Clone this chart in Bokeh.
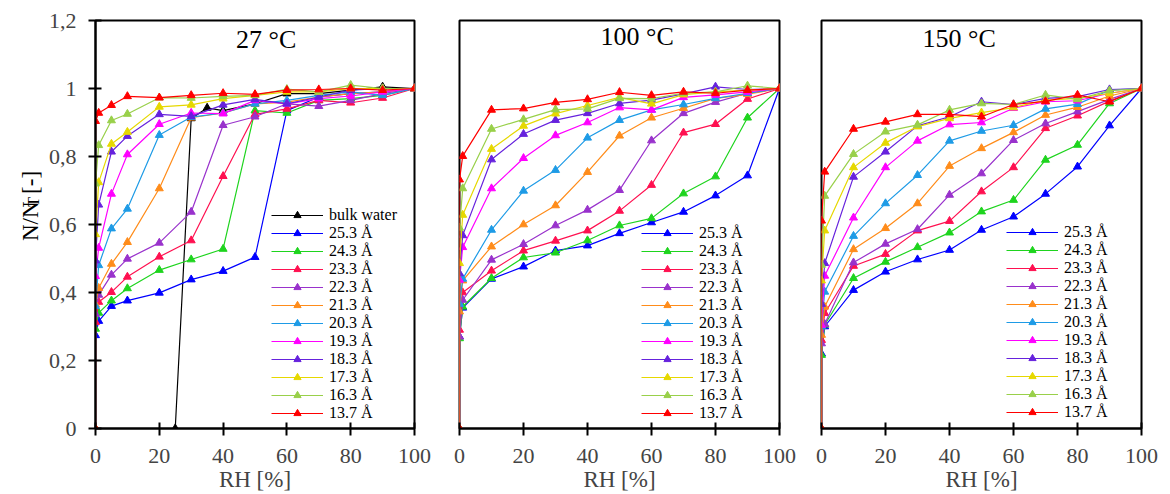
import math
from bokeh.plotting import figure
from bokeh.layouts import row
from bokeh.models import Range1d, FixedTicker, CustomJSTickFormatter, Label
from bokeh.embed import file_html
from bokeh.resources import INLINE

FONT = "Liberation Serif"

# ---------------- data ----------------
pore_sizes = ["25.3 Å", "24.3 Å", "23.3 Å", "22.3 Å", "21.3 Å", "20.3 Å",
              "19.3 Å", "18.3 Å", "17.3 Å", "16.3 Å", "13.7 Å"]
colors = ["#0000FF", "#1ED41E", "#FF1050", "#9932CC", "#FF8C1A", "#1E9BE6",
          "#FF00FF", "#6622DD", "#E6D800", "#99D04A", "#FF0000"]
titles = ["27 °C", "100 °C", "150 °C"]
x_ticks = [0, 20, 40, 60, 80, 100]
y_ticks = [0, 0.2, 0.4, 0.6, 0.8, 1.0, 1.2]

# RH values [%]
rh_27 = [0, 0, 1, 5, 10, 20, 30, 40, 50, 60, 70, 80, 90, 100]
rh_hot = [0, 0, 1, 10, 20, 30, 40, 50, 60, 70, 80, 90, 100]
bulk_rh = [25, 30, 35, 40, 50, 60, 70, 80, 90, 100]
bulk_n = [0, 0.912, 0.943, 0.935, 0.955, 0.985, 0.985, 0.995, 1.005, 1.0]

# 27 °C
t27_253 = [0, 0.274, 0.316, 0.360, 0.376, 0.399, 0.438, 0.463, 0.504, 0.935, 0.975, 0.985, 0.990, 1.0]
t27_243 = [0, 0.293, 0.340, 0.376, 0.412, 0.466, 0.497, 0.528, 0.935, 0.928, 0.965, 0.970, 0.980, 1.0]
t27_233 = [0, 0.313, 0.372, 0.401, 0.446, 0.505, 0.553, 0.742, 0.924, 0.940, 0.965, 0.958, 0.972, 1.0]
t27_223 = [0, 0.337, 0.393, 0.452, 0.499, 0.546, 0.637, 0.892, 0.917, 0.955, 0.948, 0.965, 0.985, 1.0]
t27_213 = [0, 0.365, 0.413, 0.484, 0.548, 0.706, 0.914, 0.928, 0.955, 0.960, 0.975, 0.985, 0.990, 1.0]
t27_203 = [0, 0.360, 0.480, 0.588, 0.646, 0.863, 0.916, 0.928, 0.955, 0.965, 0.980, 0.990, 0.980, 1.0]
t27_193 = [0, 0.448, 0.531, 0.690, 0.806, 0.895, 0.928, 0.926, 0.965, 0.955, 0.970, 0.978, 0.990, 1.0]
t27_183 = [0, 0.494, 0.658, 0.814, 0.860, 0.924, 0.918, 0.952, 0.968, 0.955, 0.975, 0.995, 1.000, 1.0]
t27_173 = [0, 0.571, 0.724, 0.837, 0.872, 0.946, 0.952, 0.970, 0.980, 0.990, 0.990, 1.000, 1.000, 1.0]
t27_163 = [0, 0.720, 0.833, 0.906, 0.925, 0.973, 0.972, 0.977, 0.980, 0.998, 0.990, 1.010, 1.000, 1.0]
t27_137 = [0, 0.904, 0.928, 0.951, 0.977, 0.973, 0.980, 0.986, 0.983, 0.995, 0.997, 1.000, 0.995, 1.0]

# 100 °C
t100_253 = [0, 0.270, 0.355, 0.440, 0.476, 0.523, 0.538, 0.574, 0.606, 0.637, 0.685, 0.744, 1.0]
t100_243 = [0, 0.265, 0.358, 0.442, 0.503, 0.517, 0.553, 0.597, 0.618, 0.691, 0.741, 0.914, 1.0]
t100_233 = [0, 0.290, 0.400, 0.464, 0.523, 0.552, 0.582, 0.640, 0.716, 0.870, 0.895, 0.969, 1.0]
t100_223 = [0, 0.270, 0.378, 0.496, 0.542, 0.597, 0.643, 0.701, 0.847, 0.927, 0.960, 0.986, 1.0]
t100_213 = [0, 0.344, 0.435, 0.535, 0.600, 0.656, 0.754, 0.861, 0.914, 0.942, 0.971, 0.983, 1.0]
t100_203 = [0, 0.366, 0.440, 0.584, 0.699, 0.760, 0.855, 0.907, 0.937, 0.953, 0.971, 0.986, 1.0]
t100_193 = [0, 0.437, 0.533, 0.706, 0.795, 0.862, 0.900, 0.944, 0.937, 0.974, 0.981, 0.990, 1.0]
t100_183 = [0, 0.456, 0.568, 0.791, 0.866, 0.907, 0.927, 0.956, 0.966, 0.984, 1.005, 0.997, 1.0]
t100_173 = [0, 0.486, 0.628, 0.822, 0.890, 0.926, 0.950, 0.974, 0.955, 0.982, 0.990, 0.995, 1.0]
t100_163 = [0, 0.590, 0.706, 0.881, 0.909, 0.938, 0.940, 0.971, 0.970, 0.986, 0.990, 1.008, 1.0]
t100_137 = [0, 0.732, 0.801, 0.937, 0.941, 0.959, 0.968, 0.989, 0.980, 0.990, 0.986, 0.995, 1.0]

# 150 °C
t150_253 = [0, 0.220, 0.300, 0.407, 0.461, 0.497, 0.525, 0.584, 0.623, 0.690, 0.770, 0.891, 1.0]
t150_243 = [0, 0.216, 0.305, 0.442, 0.490, 0.533, 0.576, 0.638, 0.672, 0.790, 0.834, 0.956, 1.0]
t150_233 = [0, 0.260, 0.339, 0.478, 0.513, 0.582, 0.610, 0.697, 0.768, 0.883, 0.920, 0.963, 1.0]
t150_223 = [0, 0.250, 0.307, 0.488, 0.543, 0.586, 0.687, 0.750, 0.848, 0.897, 0.932, 0.968, 1.0]
t150_213 = [0, 0.275, 0.358, 0.527, 0.589, 0.662, 0.772, 0.824, 0.871, 0.922, 0.945, 0.978, 1.0]
t150_203 = [0, 0.300, 0.402, 0.566, 0.662, 0.745, 0.846, 0.875, 0.892, 0.940, 0.954, 0.995, 1.0]
t150_193 = [0, 0.304, 0.449, 0.620, 0.768, 0.846, 0.894, 0.900, 0.942, 0.961, 0.964, 0.986, 1.0]
t150_183 = [0, 0.366, 0.486, 0.740, 0.814, 0.890, 0.917, 0.961, 0.953, 0.971, 0.976, 0.997, 1.0]
t150_173 = [0, 0.435, 0.582, 0.768, 0.840, 0.888, 0.912, 0.929, 0.944, 0.966, 0.971, 0.986, 1.0]
t150_163 = [0, 0.481, 0.684, 0.807, 0.873, 0.893, 0.937, 0.956, 0.953, 0.981, 0.968, 0.994, 1.0]
t150_137 = [0, 0.611, 0.755, 0.881, 0.902, 0.924, 0.924, 0.917, 0.953, 0.962, 0.981, 0.961, 1.0]

series_27 = [t27_253, t27_243, t27_233, t27_223, t27_213, t27_203,
             t27_193, t27_183, t27_173, t27_163, t27_137]
series_100 = [t100_253, t100_243, t100_233, t100_223, t100_213, t100_203,
              t100_193, t100_183, t100_173, t100_163, t100_137]
series_150 = [t150_253, t150_243, t150_233, t150_223, t150_213, t150_203,
              t150_193, t150_183, t150_173, t150_163, t150_137]

# ---------------- layout constants ----------------
FRAME_W = 320
HEIGHT = 494
TOP = 20
BOTTOM = 65
YLAB_W = 45            # strip left of the first panel holding the y title


def make_panel(rh, series, title, title_x, title_y, left, right, leg_x, leg_y,
               show_y=False, bulk=False):
    p = figure(width=left + FRAME_W + right, height=HEIGHT, title=None,
               x_range=Range1d(0, 100), y_range=Range1d(0, 1.2),
               output_backend="svg", toolbar_location=None,
               min_border_left=left, min_border_right=right,
               min_border_top=TOP, min_border_bottom=BOTTOM)
    p.grid.visible = False
    p.outline_line_color = "black"
    p.outline_line_width = 2
    p.background_fill_color = "white"
    p.border_fill_color = "white"

    xa = p.xaxis[0]
    xa.ticker = FixedTicker(ticks=x_ticks)
    xa.axis_label = "RH [%]"
    xa.axis_label_text_font = FONT
    xa.axis_label_text_font_size = "23px"
    xa.axis_label_text_font_style = "normal"
    xa.axis_label_standoff = 1
    xa.major_label_text_font = FONT
    xa.major_label_text_font_size = "22px"
    xa.major_label_standoff = 13
    xa.axis_line_width = 2
    xa.major_tick_line_width = 2
    xa.major_tick_in = 6
    xa.major_tick_out = 7
    xa.minor_tick_line_color = None

    ya = p.yaxis[0]
    if show_y:
        ya.ticker = FixedTicker(ticks=y_ticks)
        ya.formatter = CustomJSTickFormatter(
            code="return tick.toFixed(1).replace('.0','').replace('.', ',');")
        ya.major_label_text_font = FONT
        ya.major_label_text_font_size = "22px"
        ya.major_label_standoff = 12
        ya.axis_line_width = 2
        ya.major_tick_line_width = 2
        ya.major_tick_in = 6
        ya.major_tick_out = 7
        ya.minor_tick_line_color = None
    else:
        ya.visible = False

    if bulk:
        p.line(bulk_rh, bulk_n, line_color="black", line_width=1.2,
               legend_label="bulk water")
        p.scatter(bulk_rh, bulk_n, marker="triangle", size=8, color="black",
                  legend_label="bulk water")

    for lab, col, vals in zip(pore_sizes, colors, series):
        p.line(rh, vals, line_color=col, line_width=1.2, legend_label=lab)
        p.scatter(rh, vals, marker="triangle", size=8, color=col,
                  legend_label=lab)

    lg = p.legend[0]
    lg.location = (leg_x, leg_y)
    lg.border_line_color = None
    lg.background_fill_alpha = 0
    lg.padding = 0
    lg.margin = 0
    lg.spacing = 0
    lg.label_height = 18
    lg.glyph_height = 18
    lg.glyph_width = 52
    lg.label_standoff = 6
    lg.label_text_font = FONT
    lg.label_text_font_size = "16px"
    lg.label_text_color = "black"

    p.add_layout(Label(x=title_x, y=title_y, text=title, text_font=FONT,
                       text_font_size="26px", text_align="center",
                       text_baseline="middle", text_color="black"))
    return p


P1_LEFT = 94 - YLAB_W
p1 = make_panel(rh_27, series_27, titles[0], 53.5, 1.143, P1_LEFT, 19, 176, 6,
                show_y=True, bulk=True)
p2 = make_panel(rh_hot, series_100, titles[1], 55.5, 1.154, 26, 19, 182, 6)
p3 = make_panel(rh_hot, series_150, titles[2], 43, 1.147, 23, 18, 185, 7)

# y title N/N_T [-] (with subscript T), drawn in a narrow axis-less strip
ylab = figure(width=YLAB_W, height=HEIGHT, title=None,
              x_range=Range1d(0, YLAB_W), y_range=Range1d(0, HEIGHT),
              x_axis_location=None, y_axis_location=None,
              output_backend="svg", toolbar_location=None, min_border=0)
ylab.grid.visible = False
ylab.outline_line_color = None
ylab.border_fill_color = "white"
for txt, xs, ys, fs in [("N/N", 29.5, HEIGHT - 267, "23px"),
                        ("T", 32.8, HEIGHT - 225.5, "16px"),
                        ("[-]", 29.5, HEIGHT - 210, "23px")]:
    ylab.add_layout(Label(x=xs, y=ys, text=txt, angle=math.pi / 2,
                          text_font=FONT, text_font_size=fs,
                          text_align="left", text_baseline="alphabetic",
                          text_color="black"))

layout = row(ylab, p1, p2, p3)
open("out.html", "w").write(file_html(layout, INLINE))
